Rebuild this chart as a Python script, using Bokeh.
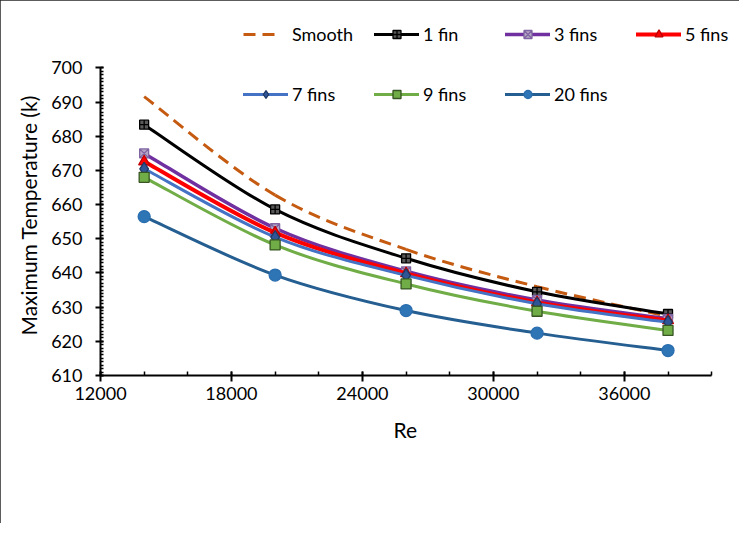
import numpy as np

from bokeh.plotting import figure
from bokeh.models import Range1d, FixedTicker, Legend, LegendItem, Title
from bokeh.embed import file_html
from bokeh.resources import INLINE

# data
re_vals = [14000, 20000, 26000, 32000, 38000]
smooth = [691.6, 662.8, 646.9, 636.0, 627.3]
fin1 = [683.4, 658.6, 644.3, 634.5, 628.0]
fin3 = [675.0, 653.1, 640.5, 632.1, 626.6]
fin5 = [672.6, 651.8, 639.9, 631.4, 626.1]
fin7 = [670.5, 650.5, 639.3, 631.0, 625.6]
fin9 = [668.0, 648.2, 636.8, 628.8, 623.2]
fin20 = [656.5, 639.4, 629.0, 622.4, 617.3]

x_ticks = [12000, 18000, 24000, 30000, 36000]
y_ticks = [610, 620, 630, 640, 650, 660, 670, 680, 690, 700]

FONT = "Lato"


def spline_segments(xs, ys):
    # excel-style smoothed line: one bezier per interval
    xs = np.asarray(xs, dtype=float)
    ys = np.asarray(ys, dtype=float)
    n = len(xs)
    seg = dict(x0=[], y0=[], x1=[], y1=[], cx0=[], cy0=[], cx1=[], cy1=[])
    for i in range(n - 1):
        a = max(i - 1, 0)
        b = min(i + 2, n - 1)
        seg["x0"].append(xs[i])
        seg["y0"].append(ys[i])
        seg["x1"].append(xs[i + 1])
        seg["y1"].append(ys[i + 1])
        seg["cx0"].append(xs[i] + (xs[i + 1] - xs[a]) / 6)
        seg["cy0"].append(ys[i] + (ys[i + 1] - ys[a]) / 6)
        seg["cx1"].append(xs[i + 1] - (xs[b] - xs[i]) / 6)
        seg["cy1"].append(ys[i + 1] - (ys[b] - ys[i]) / 6)
    return seg


# frame is a bit larger than the axes so the legend rows fit inside it;
# the axes themselves stop at 40000 and 700
p = figure(width=739, height=523,
           x_range=Range1d(12000, 41000), y_range=Range1d(610, 713.6),
           output_backend="svg", toolbar_location=None, tools="",
           min_border_left=100, min_border_right=6,
           min_border_top=21, min_border_bottom=148)
p.styles = {"outline": "1px solid #262626", "outline-offset": "-1px"}
p.outline_line_color = None
p.xgrid.visible = False
p.ygrid.visible = False
p.background_fill_color = "white"
p.border_fill_color = "white"

# axes
p.xaxis.ticker = FixedTicker(ticks=x_ticks, minor_ticks=list(range(12000, 40001, 2000)))
p.yaxis.ticker = FixedTicker(ticks=y_ticks, minor_ticks=list(range(610, 701)))
p.xaxis.bounds = (12000, 40000)
p.yaxis.bounds = (610, 700)
for ax in (p.xaxis, p.yaxis):
    ax.axis_line_color = "black"
    ax.axis_line_width = 2
    ax.major_tick_line_color = "black"
    ax.major_tick_line_width = 2
    ax.minor_tick_line_color = "black"
    ax.minor_tick_line_width = 1.5
    ax.major_label_text_font = FONT
    ax.major_label_text_font_size = "18px"
    ax.major_label_text_color = "black"

p.xaxis.major_tick_in = 4
p.xaxis.major_tick_out = 6
p.xaxis.minor_tick_in = 4
p.xaxis.minor_tick_out = 0
p.xaxis.major_label_standoff = 5

p.yaxis.major_tick_in = 3
p.yaxis.major_tick_out = 5
p.yaxis.minor_tick_in = 3
p.yaxis.minor_tick_out = 0
p.yaxis.major_label_standoff = 13

# axis titles as side titles so they sit under the axis lines, not the frame
p.add_layout(Title(text="Re", align="left", offset=293, standoff=24,
                   text_font=FONT, text_font_size="21px",
                   text_font_style="normal", text_color="black"), "below")
p.add_layout(Title(text="Maximum Temperature (k)", align="left", offset=40,
                   standoff=16, text_font=FONT, text_font_size="21px",
                   text_font_style="normal", text_color="black"), "left")

# series: (label, values, line colour, width, dash, marker, size, fill, edge)
series = [
    ("Smooth", smooth, "#C55A11", 3, "12 7", None, 0, None, None),
    ("1 fin", fin1, "#000000", 3, "solid", "square_cross", 9, "#595959", "#000000"),
    ("3 fins", fin3, "#7030A0", 3.5, "solid", "square_x", 9, "#B4A7C6", "#8064A2"),
    ("5 fins", fin5, "#FF0000", 4, "solid", "triangle", 11, "#FF0000", "#C00000"),
    ("7 fins", fin7, "#4472C4", 3, "solid", "diamond", 13, "#2F5597", "#1F3864"),
    ("9 fins", fin9, "#70AD47", 3, "solid", "square", 10, "#70AD47", "#375623"),
    ("20 fins", fin20, "#255E91", 3, "solid", "circle", 12, "#2E75B6", "#2A6EAF"),
]

# legend slots: (vx, vy) from frame bottom-left, glyph width, standoff
slots = [
    (143, 330, 38, 11),
    (274, 330, 45, 4),
    (405, 330, 45, 4),
    (536, 330, 45, 4),
    (143, 270, 45, 4),
    (274, 270, 45, 4),
    (405, 270, 45, 4),
]

for (label, vals, color, lw, dash, marker, size, fill, edge), (vx, vy, gw, so) in zip(series, slots):
    seg = spline_segments(re_vals, vals)
    b = p.bezier(x0=seg["x0"], y0=seg["y0"], x1=seg["x1"], y1=seg["y1"],
                 cx0=seg["cx0"], cy0=seg["cy0"], cx1=seg["cx1"], cy1=seg["cy1"],
                 line_color=color, line_width=lw, line_dash=dash,
                 line_cap="round" if dash == "solid" else "butt")
    rends = [b]
    if marker:
        s = p.scatter(re_vals, vals, marker=marker, size=size,
                      fill_color=fill, line_color=edge, line_width=1.3)
        rends.append(s)
    leg = Legend(items=[LegendItem(label=label, renderers=rends)],
                 location=(vx, vy), padding=0, margin=0, spacing=0,
                 glyph_width=gw, glyph_height=20, label_standoff=so,
                 label_height=20,
                 border_line_alpha=0, background_fill_alpha=0,
                 label_text_font=FONT, label_text_font_size="18px",
                 label_text_color="black")
    p.add_layout(leg)

open("out.html", "w").write(file_html(p, INLINE))
